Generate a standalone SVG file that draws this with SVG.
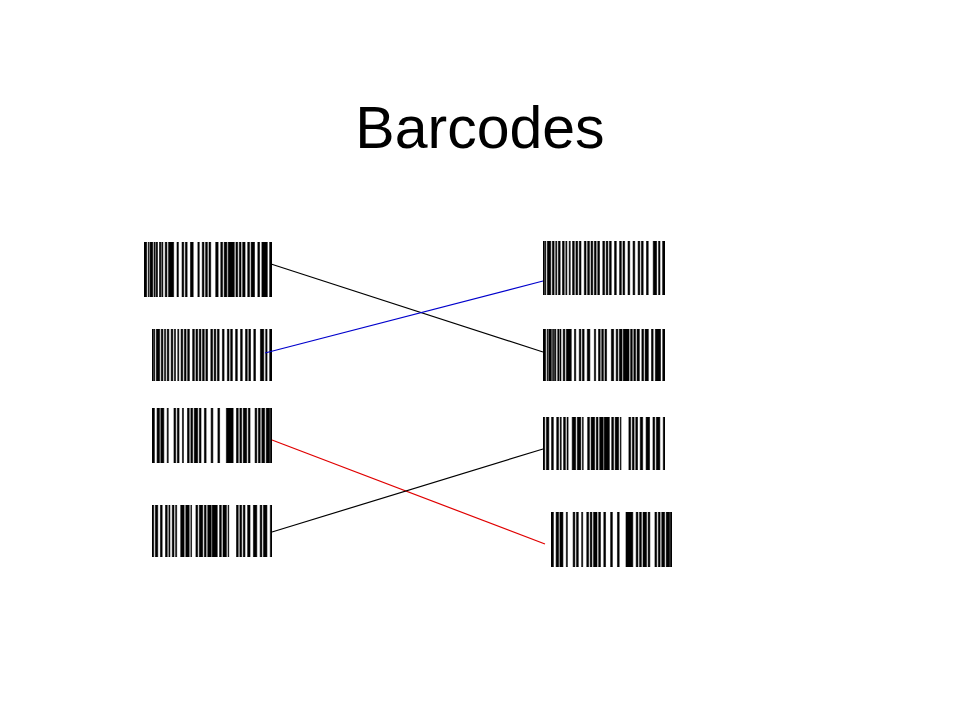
<svg xmlns="http://www.w3.org/2000/svg" xmlns:xlink="http://www.w3.org/1999/xlink" width="960" height="720" viewBox="0 0 960 720">
<style>
.title{font-family:"Liberation Sans",Arial,sans-serif;font-size:59px;fill:#000}
.bar rect{fill:#000;stroke:#000;stroke-width:0.6;vector-effect:non-scaling-stroke}
.conn line{stroke-width:1.2;fill:none}
</style>
<defs>
<symbol id="patA" viewBox="0 0 380 100" preserveAspectRatio="none">
<g class="bar">
<rect x="0" y="0" width="8" height="100"/><rect x="13" y="0" width="2" height="100"/><rect x="18" y="0" width="8" height="100"/><rect x="30" y="0" width="3" height="100"/><rect x="36" y="0" width="4" height="100"/><rect x="46" y="0" width="4" height="100"/><rect x="53" y="0" width="3" height="100"/><rect x="63" y="0" width="5" height="100"/><rect x="73" y="0" width="15" height="100"/><rect x="98" y="0" width="4" height="100"/><rect x="113" y="0" width="5" height="100"/><rect x="123" y="0" width="5" height="100"/><rect x="138" y="0" width="8" height="100"/><rect x="160" y="0" width="4" height="100"/><rect x="173" y="0" width="5" height="100"/><rect x="183" y="0" width="5" height="100"/><rect x="193" y="0" width="5" height="100"/><rect x="213" y="0" width="7" height="100"/><rect x="228" y="0" width="5" height="100"/><rect x="238" y="0" width="8" height="100"/><rect x="250" y="0" width="18" height="100"/><rect x="273" y="0" width="5" height="100"/><rect x="283" y="0" width="5" height="100"/><rect x="293" y="0" width="7" height="100"/><rect x="308" y="0" width="5" height="100"/><rect x="318" y="0" width="10" height="100"/><rect x="338" y="0" width="5" height="100"/><rect x="350" y="0" width="16" height="100"/><rect x="373" y="0" width="7" height="100"/>
</g>
</symbol>
<symbol id="patB" viewBox="0 0 363 100" preserveAspectRatio="none">
<g class="bar">
<rect x="0" y="0" width="4" height="100"/><rect x="6" y="0" width="2" height="100"/><rect x="13" y="0" width="10" height="100"/><rect x="28" y="0" width="5" height="100"/><rect x="38" y="0" width="3" height="100"/><rect x="46" y="0" width="5" height="100"/><rect x="58" y="0" width="5" height="100"/><rect x="68" y="0" width="3" height="100"/><rect x="78" y="0" width="3" height="100"/><rect x="88" y="0" width="5" height="100"/><rect x="98" y="0" width="5" height="100"/><rect x="108" y="0" width="5" height="100"/><rect x="123" y="0" width="5" height="100"/><rect x="133" y="0" width="5" height="100"/><rect x="143" y="0" width="5" height="100"/><rect x="153" y="0" width="5" height="100"/><rect x="163" y="0" width="5" height="100"/><rect x="178" y="0" width="5" height="100"/><rect x="188" y="0" width="5" height="100"/><rect x="198" y="0" width="5" height="100"/><rect x="213" y="0" width="5" height="100"/><rect x="228" y="0" width="5" height="100"/><rect x="238" y="0" width="5" height="100"/><rect x="253" y="0" width="5" height="100"/><rect x="268" y="0" width="5" height="100"/><rect x="283" y="0" width="5" height="100"/><rect x="293" y="0" width="5" height="100"/><rect x="308" y="0" width="5" height="100"/><rect x="328" y="0" width="10" height="100"/><rect x="344" y="0" width="4" height="100"/><rect x="356" y="0" width="7" height="100"/>
</g>
</symbol>
<symbol id="patC" viewBox="0 0 355 100" preserveAspectRatio="none">
<g class="bar">
<rect x="0" y="0" width="7" height="100"/><rect x="15" y="0" width="7" height="100"/><rect x="26" y="0" width="9" height="100"/><rect x="45" y="0" width="3" height="100"/><rect x="65" y="0" width="5" height="100"/><rect x="75" y="0" width="5" height="100"/><rect x="90" y="0" width="3" height="100"/><rect x="105" y="0" width="5" height="100"/><rect x="115" y="0" width="5" height="100"/><rect x="125" y="0" width="10" height="100"/><rect x="140" y="0" width="5" height="100"/><rect x="155" y="0" width="5" height="100"/><rect x="175" y="0" width="5" height="100"/><rect x="195" y="0" width="5" height="100"/><rect x="220" y="0" width="20" height="100"/><rect x="250" y="0" width="5" height="100"/><rect x="260" y="0" width="5" height="100"/><rect x="270" y="0" width="10" height="100"/><rect x="285" y="0" width="5" height="100"/><rect x="305" y="0" width="5" height="100"/><rect x="315" y="0" width="5" height="100"/><rect x="325" y="0" width="8" height="100"/><rect x="338" y="0" width="10" height="100"/><rect x="350" y="0" width="5" height="100"/>
</g>
</symbol>
<symbol id="patD" viewBox="0 0 355 100" preserveAspectRatio="none">
<g class="bar">
<rect x="0" y="0" width="5" height="100"/><rect x="10" y="0" width="7" height="100"/><rect x="25" y="0" width="5" height="100"/><rect x="40" y="0" width="5" height="100"/><rect x="50" y="0" width="3" height="100"/><rect x="60" y="0" width="5" height="100"/><rect x="70" y="0" width="3" height="100"/><rect x="85" y="0" width="10" height="100"/><rect x="100" y="0" width="10" height="100"/><rect x="115" y="0" width="2" height="100"/><rect x="130" y="0" width="5" height="100"/><rect x="140" y="0" width="10" height="100"/><rect x="155" y="0" width="5" height="100"/><rect x="165" y="0" width="10" height="100"/><rect x="178" y="0" width="15" height="100"/><rect x="200" y="0" width="5" height="100"/><rect x="210" y="0" width="10" height="100"/><rect x="225" y="0" width="2" height="100"/><rect x="250" y="0" width="5" height="100"/><rect x="260" y="0" width="5" height="100"/><rect x="270" y="0" width="5" height="100"/><rect x="283" y="0" width="7" height="100"/><rect x="300" y="0" width="10" height="100"/><rect x="320" y="0" width="5" height="100"/><rect x="330" y="0" width="10" height="100"/><rect x="350" y="0" width="5" height="100"/>
</g>
</symbol>
</defs>
<rect x="0" y="0" width="960" height="720" fill="#fff"/>
<text class="title" x="480" y="148" text-anchor="middle">Barcodes</text>
<g id="left1"><use xlink:href="#patA" x="144" y="242" width="128" height="55"/></g>
<g id="left2"><use xlink:href="#patB" x="152" y="329" width="120" height="52"/></g>
<g id="left3"><use xlink:href="#patC" x="152" y="408" width="120" height="55"/></g>
<g id="left4"><use xlink:href="#patD" x="152" y="505" width="120" height="52"/></g>
<g id="right1"><use xlink:href="#patB" x="543" y="241" width="122" height="54"/></g>
<g id="right2"><use xlink:href="#patA" x="543" y="329" width="122" height="52"/></g>
<g id="right3"><use xlink:href="#patD" x="543" y="417" width="122" height="53"/></g>
<g id="right4"><use xlink:href="#patC" x="551" y="512" width="121" height="55"/></g>
<g id="connectors" class="conn">
<line x1="271" y1="264" x2="543" y2="352" stroke="#000"/>
<line x1="265" y1="353" x2="543" y2="281" stroke="#0000cc"/>
<line x1="272" y1="440" x2="545" y2="544" stroke="#e00000"/>
<line x1="272" y1="532" x2="543" y2="449" stroke="#000"/>
</g>
</svg>
